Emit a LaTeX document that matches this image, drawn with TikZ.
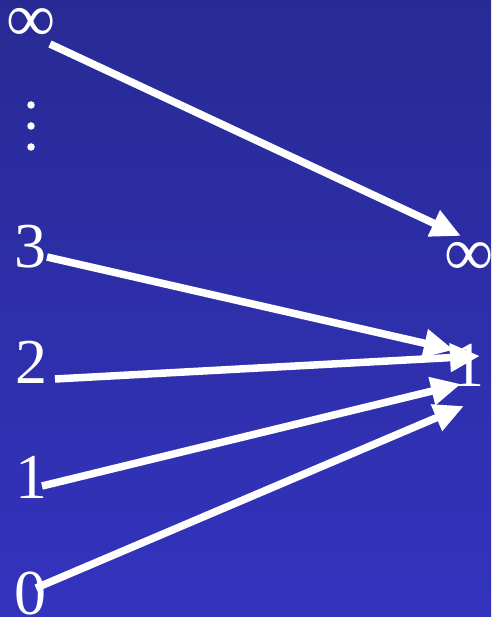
\documentclass[tikz,border=0pt]{standalone}
\usepackage{fontspec}
\setmainfont{Liberation Serif}
\usetikzlibrary{arrows.meta}
\definecolor{bgtop}{RGB}{40,42,148}
\definecolor{bgbot}{RGB}{51,51,190}
\tikzset{
  lbl/.style={text=white, font=\fontsize{64}{64}\selectfont, inner sep=0pt, anchor=center},
  inflbl/.style={text=white, font=\fontsize{69}{69}\selectfont, inner sep=0pt, anchor=center},
  arr/.style={draw=white, line width=7.5pt, -{Triangle[length=30pt,width=27pt]}},
  dotm/.style={circle, fill=white, inner sep=0pt, minimum size=7.5pt}
}
\begin{document}
\begin{tikzpicture}[x=1pt,y=-1pt]
\shade[top color=bgtop, bottom color=bgbot] (0,0) rectangle (491,617);
\useasboundingbox (0,0) rectangle (491,617);
% left labels
\node[inflbl] (linf) at (31.5,25) {∞};
\node[dotm] (d1) at (31,105) {};
\node[dotm] (d2) at (31,126) {};
\node[dotm] (d3) at (31,147) {};
\node[lbl] (l3) at (30,247) {3};
\node[lbl] (l2) at (31,362) {2};
\node[lbl] (l1) at (31,477) {1};
\node[lbl] (l0) at (30,594) {0};
% right labels
\node[inflbl] (rinf) at (469,258.5) {∞};
\node[lbl] (r1) at (468,365) {1};
% anchor coordinates
\coordinate (s1) at (50,44);
\coordinate (t1) at (461,236);
\coordinate (s2) at (47,257);
\coordinate (t2) at (454,350);
\coordinate (s3) at (55,379);
\coordinate (t3) at (480,356);
\coordinate (s4) at (42,486);
\coordinate (t4) at (461,384);
\coordinate (s5) at (36,588);
\coordinate (t5) at (464,406);
\draw[arr] (s1) -- (t1);
\draw[arr] (s2) -- (t2);
\draw[arr] (s3) -- (t3);
\draw[arr] (s4) -- (t4);
\draw[arr] (s5) -- (t5);
\end{tikzpicture}
\end{document}
